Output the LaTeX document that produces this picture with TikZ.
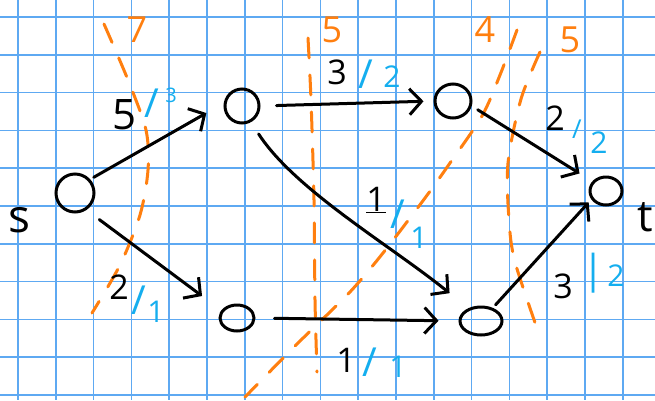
\documentclass[tikz,border=0pt]{standalone}
\usepackage{fontspec}
\setsansfont{Open Sans}
\usepackage{xcolor}
\definecolor{qgrid}{HTML}{5EA9F2}
\definecolor{qcut}{HTML}{FF7F0F}
\definecolor{qflow}{HTML}{14AEEF}
\usetikzlibrary{shapes.geometric,arrows.meta,positioning}
\begin{document}
\begin{tikzpicture}[x=1pt,y=-1pt,font=\sffamily,
  vx/.style={ellipse,draw,line width=3pt,inner sep=0pt},
  edge/.style={-{Straight Barb[length=12pt,width=26pt]},line width=3pt,line cap=round},
  capl/.style={inner sep=0pt,font=\sffamily\fontsize{34}{34}\selectfont},
  slash/.style={inner sep=0pt,text=qflow,font=\sffamily\fontsize{40}{40}\selectfont},
  flowl/.style={inner sep=0pt,text=qflow,font=\sffamily\fontsize{30}{30}\selectfont},
  cutl/.style={inner sep=0pt,text=qcut,font=\sffamily\fontsize{36}{36}\selectfont},
  cutln/.style={qcut,line width=3pt,line cap=round,dash pattern=on 20pt off 17pt},
  gridln/.style={qgrid,line width=1.6pt}]
\useasboundingbox (0,0) rectangle (655,400);
\fill[white] (0,0) rectangle (655,400);
% squared paper
\foreach \k in {0,...,16} \draw[gridln] ({18+37.8*\k},0) -- ({18+37.8*\k},400);
\foreach \k in {0,...,10} \draw[gridln] (0,{17+37.8*\k}) -- (655,{17+37.8*\k});
% cuts
\draw[cutln] plot[smooth] coordinates {(104,24) (128,80) (146,130) (148,170) (140,215) (120,265) (92,313)};
\draw[cutln] plot[smooth] coordinates {(308,38) (311,100) (314,200) (315,300) (317,372)};
\draw[cutln] plot[smooth] coordinates {(517,30) (500,75) (482,116) (450,163) (425,198) (383,253) (349,293) (296,345) (245,397)};
\draw[cutln] plot[smooth] coordinates {(540,52) (521,99) (508,163) (509,220) (515,262) (539,334)};
\node[cutl] (k1) at (137,30) {7};
\node[cutl] (k2) at (332,30) {5};
\node[cutl] (k3) at (485,30) {4};
\node[cutl] (k4) at (570,40) {5};
% vertices
\node[vx,minimum width=38pt,minimum height=38pt] (s) at (75,193) {};
\node[vx,minimum width=34pt,minimum height=34pt] (v1) at (242,106) {};
\node[vx,minimum width=36pt,minimum height=34pt] (v2) at (453,101) {};
\node[vx,minimum width=32pt,minimum height=28pt] (t) at (606,191) {};
\node[vx,minimum width=34pt,minimum height=26pt] (v3) at (237,318) {};
\node[vx,minimum width=42pt,minimum height=28pt] (v4) at (481,321) {};
\node[capl,font=\sffamily\fontsize{46}{46}\selectfont] (ls) at (19,220) {s};
\node[capl,font=\sffamily\fontsize{44}{44}\selectfont] (lt) at (645,217) {t};
% edges
\draw[edge,shorten <=4pt,shorten >=20pt] (s.42) -- (v1.171);
\draw[edge,shorten <=16pt,shorten >=10pt] (v1.east) -- (v2.west);
\draw[edge,shorten <=7pt,shorten >=15pt] (v2.-15) -- (t.145);
\draw[edge,shorten <=16pt,shorten >=24pt] (s.-56) -- (v3.154);
\draw[edge,shorten <=19pt,shorten >=20pt] (v3.east) -- (v4.west);
\draw[edge,shorten <=14pt,shorten >=24pt] (v1.-61) .. controls (295,190) and (390,245) .. (v4.135);
\draw[edge,shorten <=4pt,shorten >=4pt] (v4.48) -- (t.210);
% capacities and flows
\node[capl,font=\sffamily\fontsize{42}{42}\selectfont] (c1) at (125,115) {5};
\node[slash] (d1) at (152,103) {/};
\node[flowl,font=\sffamily\fontsize{20}{20}\selectfont] (f1) at (171,95) {3};
\node[capl] (c2) at (337,72) {3};
\node[slash] (d2) at (366,74) {/};
\node[flowl] (f2) at (392,77) {2};
\node[capl] (c3) at (555,118) {2};
\node[slash,font=\sffamily\fontsize{26}{26}\selectfont] (d3) at (577,129) {/};
\node[flowl] (f3) at (599,143) {2};
\node[capl] (c4) at (119,287) {2};
\node[slash] (d4) at (139,300) {/};
\node[flowl] (f4) at (156,312) {1};
\node[capl] (c5) at (346,360) {1};
\node[slash] (d5) at (370,362) {/};
\node[flowl] (f5) at (398,367) {1};
\node[capl] (c6) at (376,200) {\underline{1}};
\node[slash] (d6) at (398,214) {/};
\node[flowl] (f6) at (419,238) {1};
\node[capl] (c7) at (563,286) {3};
\node[slash] (d7) at (594,273) {|};
\node[flowl] (f7) at (616,276) {2};
\end{tikzpicture}
\end{document}
